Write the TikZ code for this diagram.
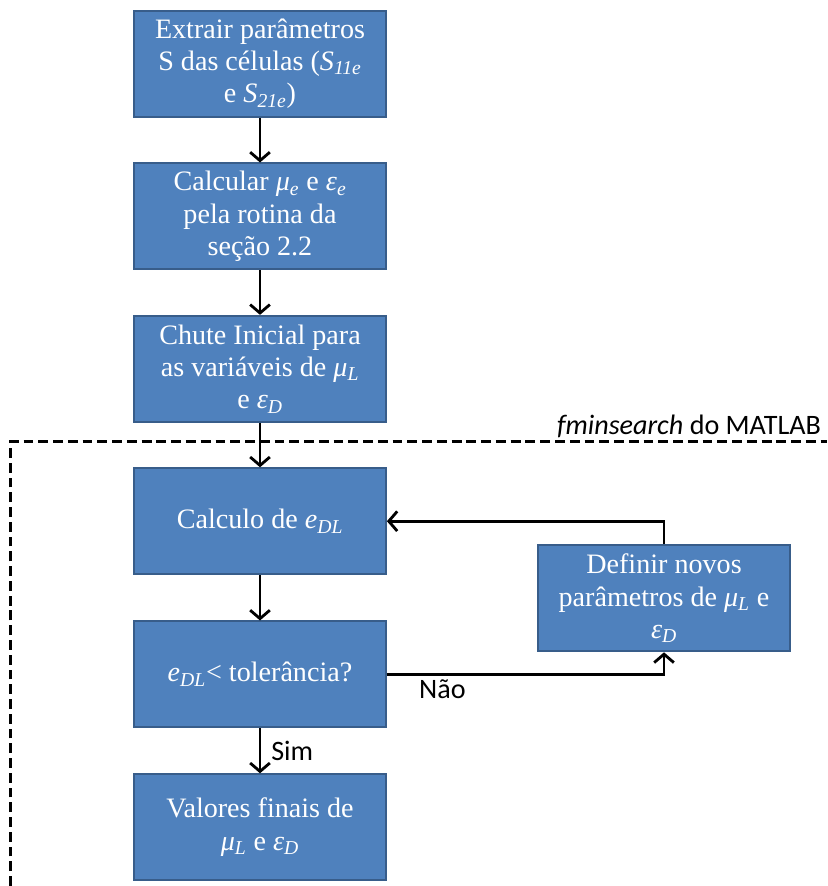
\documentclass[tikz,border=0pt]{standalone}
\usepackage{fontspec}
\setmainfont{Liberation Serif}
\newfontfamily\lblfont{Carlito}
\usetikzlibrary{arrows.meta}

\definecolor{boxblue}{HTML}{4F81BD}
\definecolor{boxedge}{HTML}{385D8A}

% variavel em italico com indice, como no texto do Word
\newcommand{\var}[2]{\textit{#1}\textsubscript{\textit{#2}}}

\tikzset{
    etapa/.style={draw=boxedge, line width=1.3pt, fill=boxblue, text=white,
        minimum width=6.3cm, minimum height=2.65cm, align=center,
        font=\rmfamily\fontsize{20}{23}\selectfont},
    seta/.style={-{Straight Barb[length=6pt,width=14pt,line width=2pt]}, line width=2pt},
    rotulo/.style={font=\lblfont\fontsize{20}{24}\selectfont, text=black}
}

\begin{document}
\begin{tikzpicture}
    \useasboundingbox (0,0) rectangle (20.675,-22.15);

    \node[etapa] (extrair) at (6.5,-1.59) {Extrair parâmetros\\S das células (\var{S}{11e}\\e \var{S}{21e})};
    \node[etapa] (calcular) at (6.5,-5.41) {Calcular \var{μ}{e} e \var{ε}{e}\\pela rotina da\\seção 2.2};
    \node[etapa] (chute) at (6.5,-9.22) {Chute Inicial para\\as variáveis de \var{μ}{L}\\e \var{ε}{D}};

    \draw[dash pattern=on 7pt off 3.5pt, line width=2pt] (0.27,-22.15) -- (0.27,-11.03) -- (20.675,-11.03);
    \node[rotulo, anchor=south east, inner sep=2pt] (fmin) at (20.6,-11.03) {\textit{fminsearch} do MATLAB};

    \node[etapa] (erro) at (6.5,-13.03) {Calculo de \var{e}{DL}};
    \node[etapa] (tol) at (6.5,-16.86) {\var{e}{DL}< tolerância?};
    \node[etapa] (fim) at (6.5,-20.68) {Valores finais de\\\var{μ}{L} e \var{ε}{D}};

    \node[etapa] (novos) at (16.6,-14.96) {Definir novos\\parâmetros de \var{μ}{L} e\\\var{ε}{D}};

    \draw[seta] (extrair) -- (calcular);
    \draw[seta] (calcular) -- (chute);
    \draw[seta] (chute) -- (erro);
    \draw[seta] (erro) -- (tol);
    \draw[seta] (tol) -- node[rotulo, right, inner sep=3pt, xshift=4pt] {Sim} (fim);
    \draw[seta] (tol.east) -| node[rotulo, pos=0.1, below, inner sep=3pt] {Não} (novos.south);
    \draw[seta] (novos.north) |- (erro.east);

\end{tikzpicture}
\end{document}
